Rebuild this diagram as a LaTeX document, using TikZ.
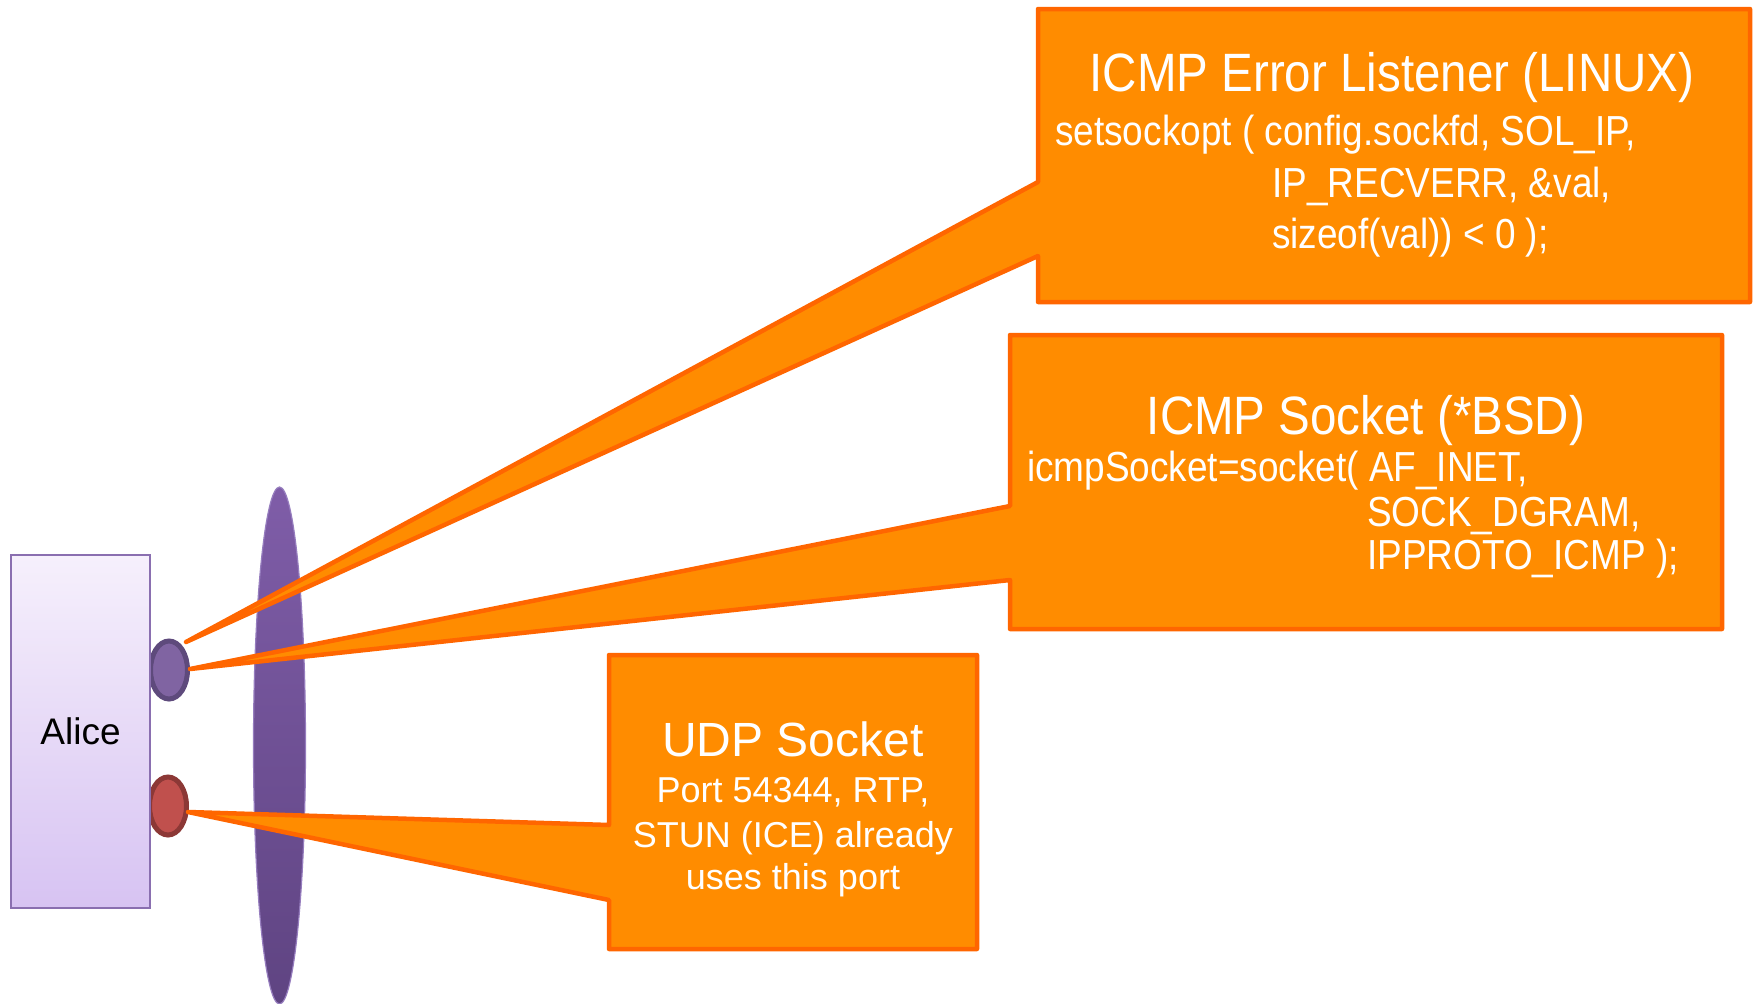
\documentclass[tikz,border=0pt]{standalone}
\usepackage{fontspec}
\setmainfont{Liberation Sans}
\newfontfamily\narrowfont[FakeStretch=0.88]{Liberation Sans}
\usetikzlibrary{shapes.geometric}
\definecolor{cfill}{RGB}{255,140,0}
\definecolor{cline}{RGB}{255,102,0}
\definecolor{alicetop}{RGB}{246,240,252}
\definecolor{alicebot}{RGB}{215,195,242}
\definecolor{aliceline}{RGB}{138,111,176}
\definecolor{pfill}{RGB}{128,100,162}
\definecolor{pline}{RGB}{94,74,124}
\definecolor{rfill}{RGB}{192,80,77}
\definecolor{rline}{RGB}{140,56,54}
\definecolor{bigtop}{RGB}{127,93,168}
\definecolor{bigbot}{RGB}{95,68,130}
\definecolor{bigline}{RGB}{150,125,190}
\begin{document}
\begin{tikzpicture}[x=1pt,y=-1pt,
  sock/.style={ellipse, minimum width=37pt, minimum height=58pt, inner sep=0pt, line width=5pt},
  callout/.style={fill=cfill, draw=cline, line width=4.5pt, line join=round},
  txt/.style={text=white, inner sep=0pt},
  titlefont/.style={font=\narrowfont\fontsize{54}{60}\selectfont},
  codefont/.style={font=\narrowfont\fontsize{42}{48}\selectfont},
  udptitle/.style={font=\fontsize{48}{54}\selectfont},
  udpbody/.style={font=\fontsize{36}{42}\selectfont}]
\useasboundingbox (0,0) rectangle (1754,1004);

% sockets
\node[sock, fill=pfill, draw=pline] (ps) at (169,670) {};
\node[sock, fill=rfill, draw=rline] (rs) at (168,806) {};

% Alice
\node[rectangle, minimum width=139pt, minimum height=353pt, inner sep=0pt,
  top color=alicetop, bottom color=alicebot, draw=aliceline, line width=2pt,
  font=\fontsize{37}{43}\selectfont] (alice) at (80.5,731.5) {Alice};

% network ellipse
\node[ellipse, minimum width=52pt, minimum height=517pt, inner sep=0pt,
  top color=bigtop, bottom color=bigbot, draw=bigline, line width=1.2pt] (net) at (279.5,745.5) {};

% tips
\coordinate (tA) at (186,642);
\coordinate (tB) at (190,669);
\coordinate (tC) at (188,812);

% callouts
\draw[callout] (1038,9) -- (1750,9) -- (1750,302) -- (1038,302) -- (1038,256) -- (tA) -- (1038,182) -- cycle;
\draw[callout] (1010,335) -- (1722,335) -- (1722,629) -- (1010,629) -- (1010,580) -- (tB) -- (1010,506) -- cycle;
\draw[callout] (609,655) -- (977,655) -- (977,949) -- (609,949) -- (609,900) -- (tC) -- (609,825) -- cycle;

% top box text
\node[txt, titlefont, anchor=base] (lt) at (1392,91) {ICMP Error Listener (LINUX)};
\node[txt, codefont, anchor=base west] (l1) at (1055,145) {setsockopt ( config.sockfd, SOL\_IP,};
\node[txt, codefont, anchor=base west] (l2) at (1272,197) {IP\_RECVERR, \&val,};
\node[txt, codefont, anchor=base west] (l3) at (1272,248) {sizeof(val)) < 0 );};

% middle box text
\node[txt, titlefont, anchor=base] (mt) at (1366,434) {ICMP Socket (*BSD)};
\node[txt, codefont, anchor=base west] (m1) at (1027,481) {icmpSocket=socket( AF\_INET,};
\node[txt, codefont, anchor=base west] (m2) at (1367,526) {SOCK\_DGRAM,};
\node[txt, codefont, anchor=base west] (m3) at (1367,569) {IPPROTO\_ICMP );};

% UDP box text
\node[txt, udptitle, anchor=base] (ut) at (793,756) {UDP Socket};
\node[txt, udpbody, anchor=base] (u1) at (793,802) {Port 54344, RTP,};
\node[txt, udpbody, anchor=base] (u2) at (793,847) {STUN (ICE) already};
\node[txt, udpbody, anchor=base] (u3) at (793,889) {uses this port};
\end{tikzpicture}
\end{document}
